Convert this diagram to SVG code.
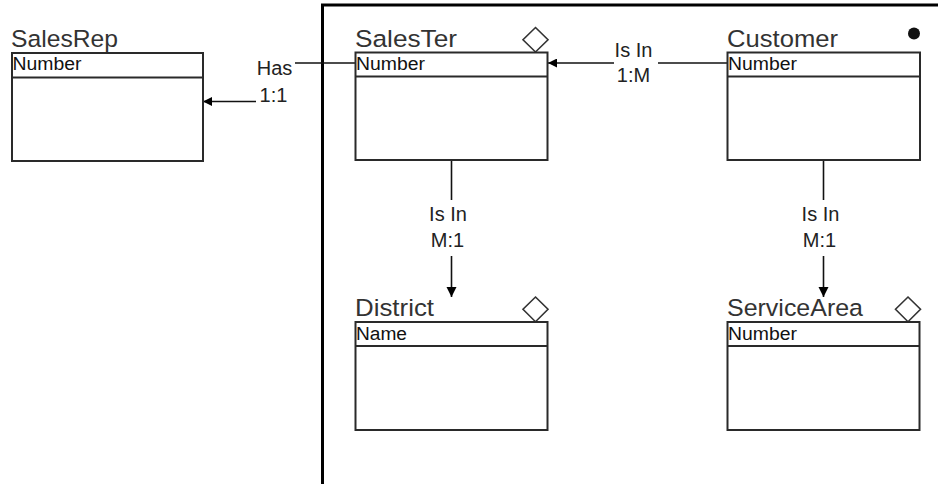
<svg xmlns="http://www.w3.org/2000/svg" width="938" height="484" viewBox="0 0 938 484">
<style>
.bg{fill:#fff}
.box{fill:#fff;stroke:#2a2a2a;stroke-width:2}
.hdr{stroke:#2a2a2a;stroke-width:2;fill:none}
.title{font-family:"Liberation Sans",Arial,sans-serif;font-size:24.5px;fill:#333}
.attr{font-family:"Liberation Sans",Arial,sans-serif;font-size:18px;fill:#111}
.lbl{font-family:"Liberation Sans",Arial,sans-serif;font-size:20px;fill:#222;text-anchor:middle}
.dia{fill:#fff;stroke:#333;stroke-width:1.6}
.frame{stroke:#000;stroke-width:3;fill:none}
.conn{stroke:#111;stroke-width:1.6;fill:none}
</style>
<defs>
<marker id="ah" viewBox="0 0 10 10" refX="10" refY="5" markerWidth="10" markerHeight="11" markerUnits="userSpaceOnUse" orient="auto">
<path d="M0,0 L10,5 L0,10 z" fill="#000"/>
</marker>
<marker id="ahs" viewBox="0 0 10 10" refX="10" refY="5" markerWidth="9" markerHeight="9" markerUnits="userSpaceOnUse" orient="auto">
<path d="M0,0 L10,5 L0,10 z" fill="#000"/>
</marker>
</defs>
<rect class="bg" x="0" y="0" width="938" height="484"/>
<g id="frame">
<path class="frame" d="M322.5,484 V5 H938"/>
</g>
<g id="connectors">
<path class="conn" d="M355,63 H295"/>
<path class="conn" d="M256,101.5 H203" marker-end="url(#ahs)"/>
<text class="lbl" x="274.5" y="75">Has</text>
<text class="lbl" x="273.5" y="101.5">1:1</text>
<path class="conn" d="M727,63 H658"/>
<path class="conn" d="M614,63 H548" marker-end="url(#ahs)"/>
<text class="lbl" x="633.5" y="56.5">Is In</text>
<text class="lbl" x="633.5" y="81.5">1:M</text>
<path class="conn" d="M451.5,160 V200"/>
<path class="conn" d="M451.5,256 V297" marker-end="url(#ah)"/>
<text class="lbl" x="448" y="221">Is In</text>
<text class="lbl" x="447.5" y="247">M:1</text>
<path class="conn" d="M823.5,160 V200"/>
<path class="conn" d="M823.5,256 V297" marker-end="url(#ah)"/>
<text class="lbl" x="820.5" y="221">Is In</text>
<text class="lbl" x="819.5" y="247">M:1</text>
</g>
<g id="SalesRep">
<text class="title" x="11" y="46.5" textLength="107" lengthAdjust="spacingAndGlyphs">SalesRep</text>
<rect class="box" x="12" y="53" width="191" height="108"/>
<path class="hdr" d="M12,77.5 H203"/>
<text class="attr" x="12.5" y="70" textLength="69" lengthAdjust="spacingAndGlyphs">Number</text>
</g>
<g id="SalesTer">
<text class="title" x="355" y="46.5" textLength="102" lengthAdjust="spacingAndGlyphs">SalesTer</text>
<path class="dia" d="M535.5,27.5 L548,39.7 L535.5,52 L523,39.7 z"/>
<rect class="box" x="355.5" y="52.5" width="192" height="107.5"/>
<path class="hdr" d="M355.5,76.5 H547.5"/>
<text class="attr" x="356" y="70" textLength="69" lengthAdjust="spacingAndGlyphs">Number</text>
</g>
<g id="Customer">
<text class="title" x="727" y="46.5" textLength="111" lengthAdjust="spacingAndGlyphs">Customer</text>
<circle cx="914" cy="33.5" r="6" fill="#111"/>
<rect class="box" x="727.5" y="52.5" width="192.5" height="107.5"/>
<path class="hdr" d="M727.5,76.5 H920"/>
<text class="attr" x="728" y="70" textLength="69" lengthAdjust="spacingAndGlyphs">Number</text>
</g>
<g id="District">
<text class="title" x="355" y="316" textLength="79" lengthAdjust="spacingAndGlyphs">District</text>
<path class="dia" d="M535.5,297 L548,309.3 L535.5,321.7 L523,309.3 z"/>
<rect class="box" x="355.5" y="322" width="192" height="108"/>
<path class="hdr" d="M355.5,346 H547.5"/>
<text class="attr" x="356" y="340" textLength="51" lengthAdjust="spacingAndGlyphs">Name</text>
</g>
<g id="ServiceArea">
<text class="title" x="727" y="316" textLength="136" lengthAdjust="spacingAndGlyphs">ServiceArea</text>
<path class="dia" d="M908,297 L920.5,309.3 L908,321.7 L895.5,309.3 z"/>
<rect class="box" x="727.5" y="322" width="192" height="108"/>
<path class="hdr" d="M727.5,346 H919.5"/>
<text class="attr" x="728" y="340" textLength="69" lengthAdjust="spacingAndGlyphs">Number</text>
</g>
</svg>
